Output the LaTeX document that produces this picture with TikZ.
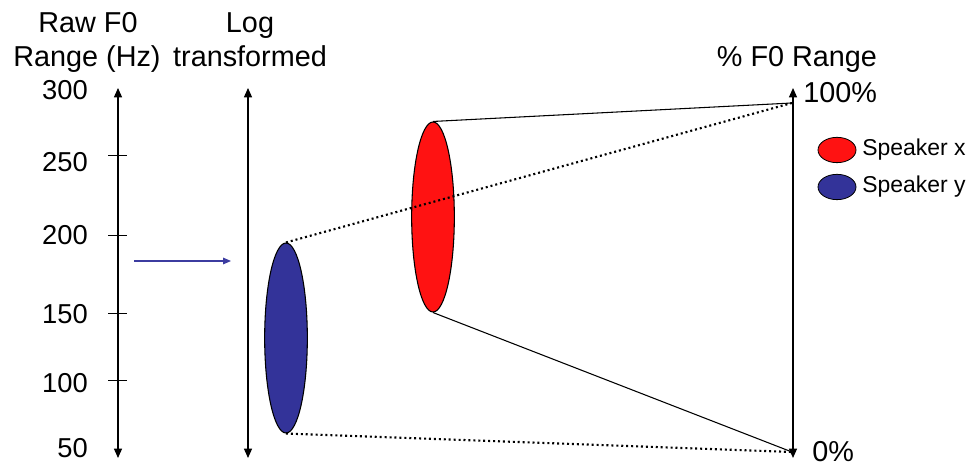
\documentclass[tikz,border=0pt]{standalone}
\usepackage{fontspec}
\setmainfont{Liberation Sans}
\usetikzlibrary{shapes.geometric,arrows.meta}
\definecolor{spkx}{RGB}{255,18,18}
\definecolor{spky}{RGB}{51,51,153}
\definecolor{arrblue}{RGB}{60,60,160}
\begin{document}
\begin{tikzpicture}[x=0.75pt,y=-0.75pt,
  lbl/.style={font=\fontsize{21.6}{26}\selectfont, inner sep=0pt, anchor=base},
  tick/.style={font=\fontsize{20.5}{24}\selectfont, inner sep=0pt, anchor=base east},
  leg/.style={font=\fontsize{17.2}{20}\selectfont, inner sep=0pt, anchor=west},
  axis/.style={line width=0.9pt, {Triangle[width=6pt,length=7pt]}-{Triangle[width=6pt,length=7pt]}},
  tickmark/.style={line width=0.7pt},
  blob/.style={ellipse, draw=black, line width=0.8pt, inner sep=0pt, minimum width=32pt, minimum height=142.5pt},
  legblob/.style={ellipse, draw=black, line width=0.6pt, inner sep=0pt, minimum width=28.5pt, minimum height=19pt},
  solidline/.style={line width=0.8pt},
  dotline/.style={line width=1.6pt, dash pattern=on 1.5pt off 2.2pt}
]
\useasboundingbox (0,0) rectangle (973,466);

% headings
\node[lbl] (raw) at (88,33) {Raw F0};
\node[lbl] (rng) at (87,67) {Range (Hz)};
\node[lbl] (log) at (250,33) {Log};
\node[lbl] (trn) at (250,67) {transformed};
\node[lbl] (pct) at (797,67) {\% F0 Range};
\node[lbl, anchor=base west] (p100) at (803,103) {100\%};
\node[lbl, anchor=base west] (p0) at (812,461) {0\%};

% tick labels
\node[tick] (t300) at (88,100) {300};
\node[tick] (t250) at (88,172) {250};
\node[tick] (t200) at (88,245) {200};
\node[tick] (t150) at (88,323) {150};
\node[tick] (t100) at (88,392) {100};
\node[tick] (t50) at (88,457) {50};

% axes
\coordinate (a1t) at (118,88);
\coordinate (a1b) at (118,458);
\coordinate (a2t) at (248,88);
\coordinate (a2b) at (248,458);
\coordinate (a3t) at (793,88);
\coordinate (a3b) at (793,458);
\draw[axis] (a1b) -- (a1t);
\draw[axis] (a2b) -- (a2t);
\draw[axis] (a3b) -- (a3t);

% tick marks
\foreach \y/\n in {155/k250,235/k200,313/k150,380/k100}{
  \coordinate (\n l) at (108,\y);
  \coordinate (\n r) at (127,\y);
  \draw[tickmark] (\n l) -- (\n r);
}

% blue transform arrow
\coordinate (ba1) at (134,261);
\coordinate (ba2) at (231,261);
\draw[arrblue, line width=0.8pt, -{Triangle[width=5pt,length=6pt]}] (ba1) -- (ba2);

% ellipses
\node[blob, fill=spky] (ey) at (286,338) {};
\node[blob, fill=spkx] (ex) at (433,217) {};

% connection points on % axis
\coordinate (c100) at (792,103);
\coordinate (c0) at (792,452);

\draw[solidline] (ex.north) -- (c100);
\draw[solidline] (ex.south) -- (c0);
\draw[dotline] (ey.north) -- (c100);
\draw[dotline] (ey.south) -- (c0);

% legend
\node[legblob, fill=spkx] (lx) at (837,150) {};
\node[legblob, fill=spky] (ly) at (837,187) {};
\node[leg] (lxt) at (862,150) {Speaker x};
\node[leg] (lyt) at (862,187) {Speaker y};
\end{tikzpicture}
\end{document}
